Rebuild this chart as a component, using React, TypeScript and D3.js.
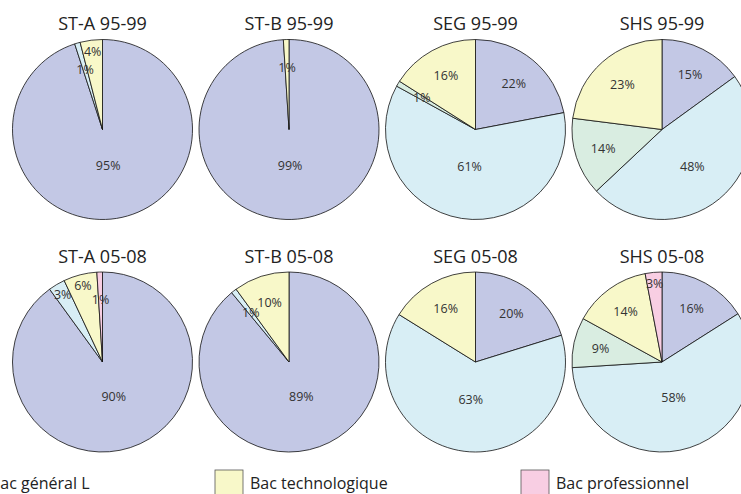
import React from "react";
import * as d3 from "d3";

// Categories (slice order clockwise from 12 o'clock)
const categories = ["Bac général S", "Bac général ES", "Bac général L", "Bac technologique", "Bac professionnel"];
const colors = ["#c3c8e5", "#d8eef5", "#d9ede1", "#f8f8c9", "#f8cee3"];

const titles = [
  "ST-A 95-99", "ST-B 95-99", "SEG 95-99", "SHS 95-99",
  "ST-A 05-08", "ST-B 05-08", "SEG 05-08", "SHS 05-08",
];

// Percentages per pie, in category order: S, ES, L, techno, pro
const stA9599 = [95, 1, 0, 4, 0];
const stB9599 = [99, 0, 0, 1, 0];
const seg9599 = [22, 61, 1, 16, 0];
const shs9599 = [15, 48, 14, 23, 0];
const stA0508 = [90, 3, 0, 6, 1];
const stB0508 = [89, 1, 0, 10, 0];
const seg0508 = [20, 63, 0, 16, 0];
const shs0508 = [16, 58, 9, 14, 3];

const pieValues = [stA9599, stB9599, seg9599, shs9599, stA0508, stB0508, seg0508, shs0508];

// Legend entries visible in the picture
const legendRow1 = [2, 3, 4];

const W = 741;
const H = 494;
const R = 90;
const FONT = "'Open Sans', 'Noto Sans', sans-serif";

export default function App() {
  const xScale = d3.scaleLinear().domain([0, 3]).range([102.5, 662]);
  const yScale = d3.scaleLinear().domain([0, 1]).range([129.5, 362]);
  const pie = d3.pie<number>().sort(null).value((d) => d);
  const arc = d3.arc<d3.PieArcDatum<number>>().innerRadius(0).outerRadius(R);
  // label radius (as fraction of R) depends on slice share
  const labelFrac = d3
    .scaleLinear()
    .domain([0, 0.015, 0.03, 0.07, 0.09, 0.25, 0.48, 0.55, 1])
    .range([0.68, 0.7, 0.87, 0.88, 0.7, 0.66, 0.53, 0.42, 0.4])
    .clamp(true);

  const legendX1 = [-45, 215, 521];

  return (
    <svg
      width={W}
      height={H}
      style={{ position: "absolute", left: 0, top: 0, background: "#fff" }}
      fontFamily={FONT}
    >
      {pieValues.map((vals, i) => {
        const cx = xScale(i % 4);
        const cy = yScale(Math.floor(i / 4));
        const total = d3.sum(vals);
        const arcs = pie(vals);
        return (
          <g key={i} transform={`translate(${cx},${cy})`}>
            {arcs.map((a, j) =>
              a.value > 0 ? (
                <path
                  key={j}
                  d={arc(a) || ""}
                  fill={colors[j]}
                  stroke="#111"
                  strokeWidth={0.8}
                  strokeLinejoin="round"
                />
              ) : null
            )}
            {arcs.map((a, j) => {
              if (a.value <= 0) return null;
              const mid = (a.startAngle + a.endAngle) / 2;
              const r = R * labelFrac(a.value / total);
              const x = Math.sin(mid) * r;
              const y = -Math.cos(mid) * r;
              return (
                <text
                  key={"l" + j}
                  x={x}
                  y={y}
                  dy="0.35em"
                  textAnchor="middle"
                  fontSize={12.5}
                  fill="#333"
                >
                  {`${a.value}%`}
                </text>
              );
            })}
            <text
              x={0}
              y={-99.5}
              textAnchor="middle"
              fontSize={18}
              fill="#222"
            >
              {titles[i]}
            </text>
          </g>
        );
      })}
      {legendRow1.map((c, k) => (
        <g key={"lg1" + c} transform={`translate(${legendX1[k]},470)`}>
          <rect x={0} y={0} width={28} height={26} fill={colors[c]} stroke="#555" strokeWidth={0.8} />
          <text x={35} y={19} fontSize={16} fill="#222">
            {categories[c]}
          </text>
        </g>
      ))}
    </svg>
  );
}
